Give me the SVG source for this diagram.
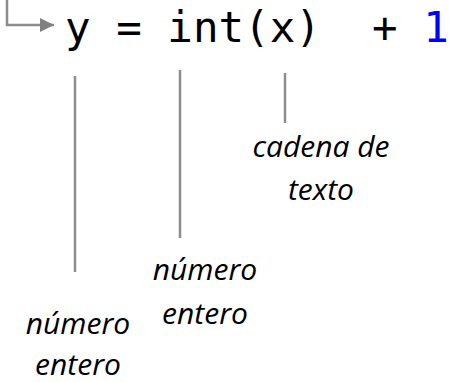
<svg xmlns="http://www.w3.org/2000/svg" width="450" height="382" viewBox="0 0 450 382">
<style>
.code{font-family:"DejaVu Sans Mono",monospace;font-size:42.5px;fill:#000}
.lbl{font-family:"Open Sans",sans-serif;font-style:italic;font-size:30px;fill:#000;text-anchor:middle}
.ln{stroke:#8c8c8c;stroke-width:2.5;fill:none}
</style>
<defs>
<marker id="ah" markerWidth="14" markerHeight="14" refX="14" refY="7" orient="auto" markerUnits="userSpaceOnUse">
<path d="M0,0 L14,7 L0,14 Z" fill="#808080"/>
</marker>
</defs>
<g id="code">
<text class="code" x="65" y="42" xml:space="preserve">y = int(x)  + <tspan fill="#0000ff">1</tspan></text>
</g>
<g id="connectors">
<path class="ln" d="M7,0 V25 H54" marker-end="url(#ah)"/>
<line class="ln" x1="75" y1="76" x2="75" y2="272"/>
<line class="ln" x1="180" y1="70" x2="180" y2="238"/>
<line class="ln" x1="285" y1="73" x2="285" y2="123"/>
</g>
<g id="lbl-cadena">
<text class="lbl" x="321" y="157">cadena de</text>
<text class="lbl" x="321" y="200">texto</text>
</g>
<g id="lbl-numero1">
<text class="lbl" x="205" y="280">número</text>
<text class="lbl" x="205" y="324">entero</text>
</g>
<g id="lbl-numero2">
<text class="lbl" x="78" y="334">número</text>
<text class="lbl" x="78" y="375">entero</text>
</g>
</svg>
